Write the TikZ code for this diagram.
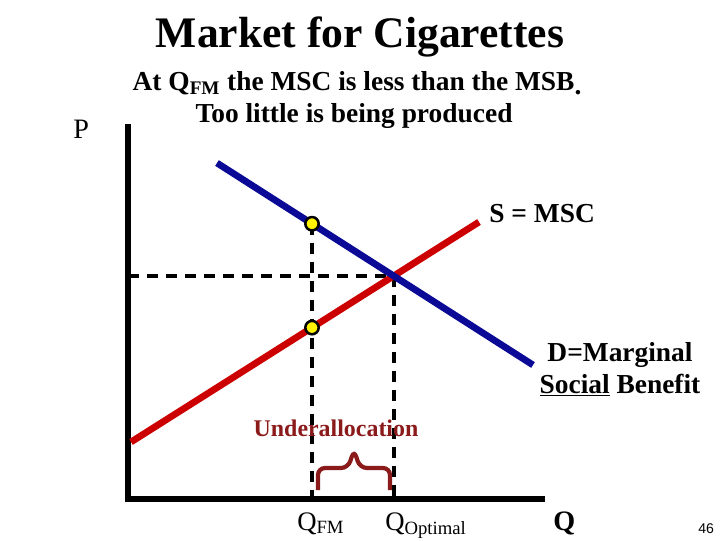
\documentclass[tikz,border=0pt]{standalone}
\usepackage{fontspec}
\setmainfont{Liberation Serif}
\newfontfamily\slidenum{Liberation Sans}
\usepackage{tikz}
\usetikzlibrary{intersections}
\definecolor{curveblue}{HTML}{0A0A96}
\definecolor{curvered}{HTML}{CC0000}
\definecolor{bracered}{HTML}{8B1A1A}

\begin{document}
\begin{tikzpicture}[
  x=0.025cm, y=-0.025cm,
  axis/.style={line width=4.4pt, color=black},
  curve/.style={line width=4.8pt},
  guide/.style={line width=2.8pt, dash pattern=on 8pt off 5.5pt},
  dot/.style={circle, draw=black, fill=yellow, line width=1.8pt,
              inner sep=0pt, minimum size=9.5pt},
  label/.style={font=\fontsize{19.5}{23}\selectfont\bfseries, inner sep=0pt},
  qlabel/.style={font=\fontsize{19}{22}\selectfont, inner sep=0pt, anchor=base west},
]
  \useasboundingbox (0,0) rectangle (720,540);

  % titles
  \node[font=\fontsize{31}{36}\selectfont\bfseries, inner sep=0pt, anchor=base]
    (title) at (360,47) {Market for Cigarettes};
  \node[label, anchor=base] (note1) at (357,90)
    {At Q\textsubscript{FM} the MSC is less than the MSB\raisebox{-0.35ex}{.}};
  \node[label, anchor=base] (note2) at (354,122) {Too little is being produced};

  % axes
  \coordinate (origin) at (128,499);
  \coordinate (ytop) at (128,124);
  \coordinate (xend) at (545,499);
  \draw[axis] (ytop) -- (origin) -- (xend);
  \node[font=\fontsize{20}{24}\selectfont, inner sep=0pt, anchor=base west]
    (plabel) at (73,138) {P};
  \node[font=\fontsize{20}{24}\selectfont\bfseries, inner sep=0pt, anchor=base west]
    (qaxis) at (553,530) {Q};

  % curves
  \coordinate (d1) at (217,163);
  \coordinate (d2) at (533,365);
  \coordinate (s1) at (131,442);
  \coordinate (s2) at (479,222);
  \path[name path=qfmline] (312,100) -- (312,520);

  % guide lines first, curves on top
  \path[name path=demand] (d1) -- (d2);
  \path[name path=supply] (s1) -- (s2);
  \path[name intersections={of=demand and supply, by=eq}];
  \path[name intersections={of=demand and qfmline, by=msb}];
  \path[name intersections={of=supply and qfmline, by=msc}];
  \draw[guide] (origin |- eq) -- (eq);
  \draw[guide] (eq) -- (eq |- origin);
  \draw[guide] (msb) -- (msb |- origin);

  \draw[curve, curvered] (s1) -- (s2);
  \draw[curve, curveblue] (d1) -- (d2);
  \node[dot] (msbdot) at (msb) {};
  \node[dot] (mscdot) at (msc) {};

  \node[label, anchor=base west] (slabel) at (489,222) {S = MSC};
  \node[label, anchor=base] (dlabel1) at (620,361) {D=Marginal};
  \node[label, anchor=base] (dlabel2) at (620,393) {\underline{Social} Benefit};

  % underallocation
  \node[font=\fontsize{17}{20}\selectfont\bfseries, text=bracered, inner sep=0pt, anchor=base]
    (under) at (336,436) {Underallocation};
  \draw[bracered, line width=3pt, rounded corners=5pt]
    (318,490) -- (318,468) -- (348,468) -- (354,450) -- (360,468) -- (390,468) -- (390,490);

  \node[qlabel] (qfm) at (297,530) {Q\textsubscript{FM}};
  \node[qlabel] (qopt) at (385,530) {Q\textsubscript{Optimal}};
  \node[font=\slidenum\fontsize{10}{12}\selectfont, inner sep=0pt, anchor=base west]
    (pagenum) at (698,533) {46};
\end{tikzpicture}
\end{document}
